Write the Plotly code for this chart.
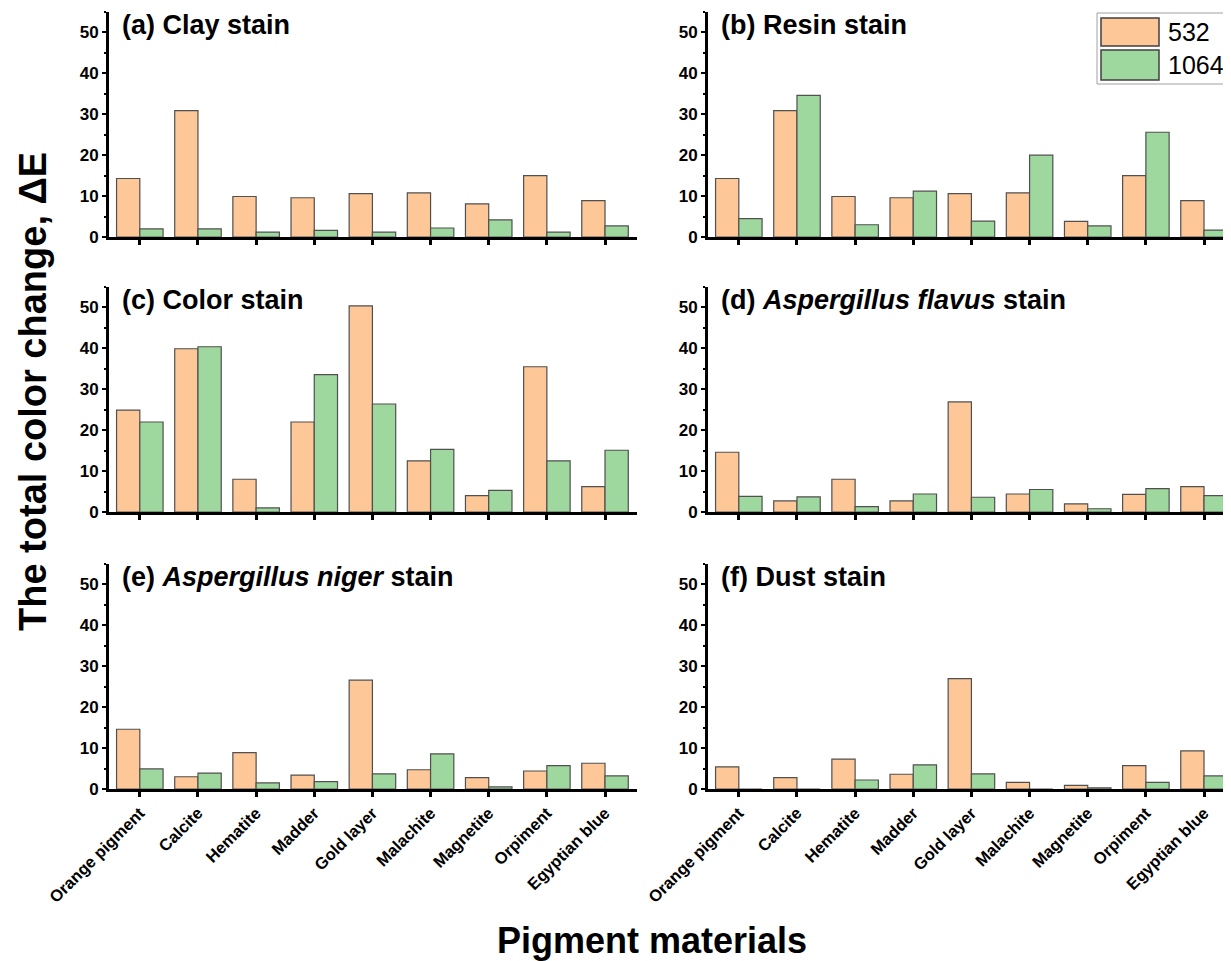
import plotly.graph_objects as go

# the page body adds an 8px margin; the figure is sized so that the page
# matches the 1231x961 window
OFF = 8
W, H = 1231 - OFF, 961 - OFF

categories = ["Orange pigment", "Calcite", "Hematite", "Madder", "Gold layer",
              "Malachite", "Magnetite", "Orpiment", "Egyptian blue"]

series_names = ["532", "1064"]

clay_532 = [14.3, 30.9, 9.9, 9.6, 10.6, 10.8, 8.1, 15.0, 8.9]
clay_1064 = [2.0, 2.0, 1.2, 1.6, 1.2, 2.2, 4.2, 1.2, 2.7]

resin_532 = [14.3, 30.9, 9.9, 9.6, 10.6, 10.8, 3.8, 15.0, 8.9]
resin_1064 = [4.5, 34.6, 3.0, 11.2, 3.9, 20.0, 2.7, 25.6, 1.7]

color_532 = [24.9, 39.9, 8.0, 22.0, 50.4, 12.5, 4.0, 35.5, 6.2]
color_1064 = [22.0, 40.4, 1.0, 33.6, 26.4, 15.3, 5.3, 12.5, 15.1]

flavus_532 = [14.6, 2.7, 8.0, 2.7, 26.9, 4.4, 2.0, 4.3, 6.2]
flavus_1064 = [3.8, 3.7, 1.3, 4.4, 3.6, 5.5, 0.8, 5.7, 4.0]

niger_532 = [14.6, 3.0, 8.9, 3.4, 26.6, 4.7, 2.8, 4.4, 6.3]
niger_1064 = [4.9, 3.9, 1.5, 1.8, 3.7, 8.6, 0.5, 5.7, 3.2]

dust_532 = [5.4, 2.8, 7.3, 3.6, 27.0, 1.6, 0.9, 5.7, 9.3]
dust_1064 = [0.0, 0.0, 2.2, 5.9, 3.7, 0.0, 0.3, 1.6, 3.2]

panel_titles = [
    "<b>(a) Clay stain</b>",
    "<b>(b) Resin stain</b>",
    "<b>(c) Color stain</b>",
    "<b>(d) <i>Aspergillus flavus</i> stain</b>",
    "<b>(e) <i>Aspergillus niger</i> stain</b>",
    "<b>(f) Dust stain</b>",
]

panels = [
    (clay_532, clay_1064),
    (resin_532, resin_1064),
    (color_532, color_1064),
    (flavus_532, flavus_1064),
    (niger_532, niger_1064),
    (dust_532, dust_1064),
]

colors = ["#FDC797", "#9ED89E"]
outline = "#505050"
FONT = "Arial, Liberation Sans, sans-serif"

# layout geometry (window pixels)
col_x = [(109, 637), (708, 1231)]
row_y = [(12, 237), (287, 512), (564, 789)]
px_per_cat = 58.15

def px_x(p):
    return (p - OFF) / W

def px_y(p):
    return 1 - (p - OFF) / H

fig = go.Figure()
layout_axes = {}
annotations = []

for i, (v532, v1064) in enumerate(panels):
    r, c = divmod(i, 2)
    n = i + 1
    xa = "x" if n == 1 else f"x{n}"
    ya = "y" if n == 1 else f"y{n}"
    for k, vals in enumerate((v532, v1064)):
        fig.add_trace(go.Bar(
            x=list(range(len(categories))), y=vals, name=series_names[k],
            marker=dict(color=colors[k], line=dict(color=outline, width=1.2)),
            offsetgroup=str(k), xaxis=xa, yaxis=ya, showlegend=False,
            hovertext=categories,
        ))
    x0, x1 = col_x[c]
    y0, y1 = row_y[r]
    xmax = -0.53 + (x1 - x0) / px_per_cat
    xkey = "xaxis" if n == 1 else f"xaxis{n}"
    ykey = "yaxis" if n == 1 else f"yaxis{n}"
    bottom = (r == 2)
    layout_axes[xkey] = dict(
        domain=[px_x(x0), min(1.0, px_x(x1))], anchor=ya, automargin=False,
        range=[-0.53, xmax], tickmode="array",
        tickvals=list(range(len(categories))),
        ticktext=categories if bottom else [""] * len(categories),
        showticklabels=bottom, tickangle=-45,
        ticks="outside", ticklen=5, tickwidth=2.5, tickcolor="black",
        showline=True, linecolor="black", linewidth=3,
        showgrid=False, zeroline=False, fixedrange=True,
        tickfont=dict(family=FONT, size=16.5, color="black", weight="bold"),
    )
    layout_axes[ykey] = dict(
        domain=[px_y(y1), px_y(y0)], anchor=xa, automargin=False,
        range=[0, 55], tickmode="array", tickvals=[0, 10, 20, 30, 40, 50],
        ticks="outside", ticklen=4, tickwidth=2, tickcolor="black",
        minor=dict(tickvals=[5, 15, 25, 35, 45, 55], ticks="outside", ticklen=2.5,
                   tickwidth=1.5, tickcolor="black"),
        showline=True, linecolor="black", linewidth=3,
        showgrid=False, zeroline=False, fixedrange=True,
        tickfont=dict(family=FONT, size=17, color="black", weight="bold"),
    )
    annotations.append(dict(
        text=panel_titles[i], xref="paper", yref="paper",
        x=px_x(x0 + 11), y=px_y(y0 + 13), xanchor="left", yanchor="middle",
        showarrow=False,
        font=dict(family=FONT, size=27, color="black"),
    ))

# axis titles
annotations.append(dict(
    text="<b>The total color change, ΔE</b>", xref="paper", yref="paper",
    x=px_x(33), y=px_y(392), textangle=-90, showarrow=False,
    xanchor="center", yanchor="middle",
    font=dict(family=FONT, size=38, color="black"),
))
annotations.append(dict(
    text="<b>Pigment materials</b>", xref="paper", yref="paper",
    x=px_x(652), y=px_y(940), showarrow=False,
    xanchor="center", yanchor="middle",
    font=dict(family=FONT, size=36, color="black"),
))

# legend box (drawn)
shapes = [
    dict(type="rect", xref="paper", yref="paper",
         x0=px_x(1097), x1=px_x(1240), y0=px_y(84), y1=px_y(13),
         line=dict(color="#A0A0A0", width=1), fillcolor="white", layer="above"),
]
sw = [(18, 46), (50, 80)]
for k in range(2):
    shapes.append(dict(type="rect", xref="paper", yref="paper",
                       x0=px_x(1101), x1=px_x(1159), y0=px_y(sw[k][1]), y1=px_y(sw[k][0]),
                       line=dict(color="#404040", width=1.5), fillcolor=colors[k], layer="above"))
    annotations.append(dict(
        text=series_names[k], xref="paper", yref="paper",
        x=px_x(1166), y=px_y((sw[k][0] + sw[k][1]) / 2), xanchor="left", yanchor="middle",
        showarrow=False, font=dict(family=FONT, size=25, color="black"),
    ))

fig.update_layout(
    template="none",
    width=W, height=H,
    margin=dict(l=0, r=0, t=0, b=0, pad=0),
    paper_bgcolor="white", plot_bgcolor="white",
    barmode="group", bargap=0.2, bargroupgap=0,
    showlegend=False,
    annotations=annotations, shapes=shapes,
    font=dict(family=FONT, color="black"),
    **layout_axes,
)

fig.write_html("out.html")
